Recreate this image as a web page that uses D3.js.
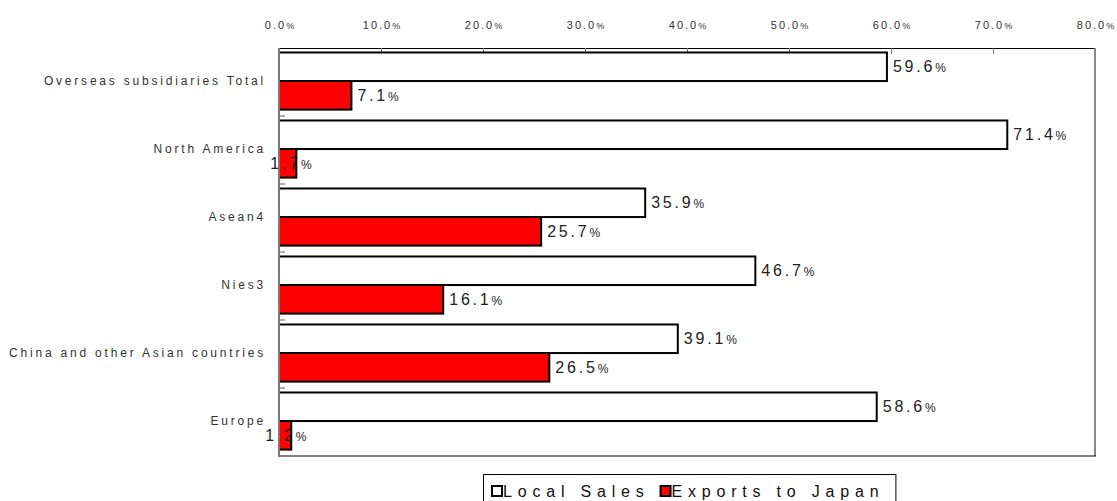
<!DOCTYPE html>
<html>
<head>
<meta charset="utf-8">
<script src="https://cdn.jsdelivr.net/npm/d3@7"></script>
<style>
  html, body { margin: 0; padding: 0; background: #fff; }
  svg { display: block; font-family: "Liberation Sans", Arial, sans-serif; }
</style>
</head>
<body>
<svg id="chart" width="1117" height="501"></svg>
<script>
// Regions and the share of sales going to each destination (%)
const categories = [
  "Overseas subsidiaries Total",
  "North America",
  "Asean4",
  "Nies3",
  "China and other Asian countries",
  "Europe"
];
const localSales = [59.6, 71.4, 35.9, 46.7, 39.1, 58.6];
const exportsToJapan = [7.1, 1.7, 25.7, 16.1, 26.5, 1.2];
const seriesNames = ["Local Sales", "Exports to Japan"];
const seriesColors = ["#ffffff", "#ff0000"];
const xTicks = [0, 10, 20, 30, 40, 50, 60, 70, 80];

const svg = d3.select("#chart");
const plot = { left: 279, right: 1095, top: 48, bottom: 456 };

const x = d3.scaleLinear().domain([0, 80]).range([plot.left, plot.right]);
const y = d3.scaleBand().domain(categories).range([plot.top, plot.bottom]).padding(0);
const bw = y.bandwidth();
const barH = bw * 0.42;
const barOff = bw * 0.066;

// writes "12.3%" with a smaller percent sign
function percentText(sel, v, pctSize) {
  sel.text(null);
  sel.append("tspan").text(v.toFixed(1));
  sel.append("tspan").style("font-size", pctSize).text("%");
}

// top axis with tick labels
const axis = d3.axisTop(x).tickValues(xTicks).tickSize(-6).tickSizeOuter(0);
const gAxis = svg.append("g").attr("transform", `translate(0,${plot.top})`).call(axis);
gAxis.select(".domain").attr("stroke", "#000").attr("stroke-width", 1);
gAxis.selectAll(".tick line").attr("stroke", "#777").attr("stroke-width", 1);
gAxis.selectAll(".tick text")
  .attr("x", 1)
  .attr("y", -23)
  .attr("dy", "0.35em")
  .attr("fill", "#333")
  .style("font-size", "11px")
  .style("letter-spacing", "2px")
  .attr("text-anchor", "middle")
  .each(function (d) { percentText(d3.select(this), d, "9px"); });

// plot frame: right and bottom edges
svg.append("line").attr("x1", plot.right).attr("x2", plot.right)
  .attr("y1", plot.top).attr("y2", plot.bottom)
  .attr("stroke", "#888").attr("stroke-width", 2);
svg.append("line").attr("x1", plot.left).attr("x2", plot.right + 1)
  .attr("y1", plot.bottom).attr("y2", plot.bottom)
  .attr("stroke", "#000").attr("stroke-width", 1);

// category boundary ticks on the left axis
svg.append("g").selectAll("line")
  .data(categories.slice(1))
  .join("line")
  .attr("x1", plot.left).attr("x2", plot.left + 6)
  .attr("y1", d => y(d)).attr("y2", d => y(d))
  .attr("stroke", "#666").attr("stroke-width", 1);

// bars
const series = [localSales, exportsToJapan];
series.forEach((vals, si) => {
  const rows = categories.map((c, i) => ({ c, v: vals[i] }));
  const g = svg.append("g");
  g.selectAll("rect")
    .data(rows)
    .join("rect")
    .attr("x", x(0))
    .attr("y", d => y(d.c) + barOff + si * barH)
    .attr("width", d => x(d.v) - x(0))
    .attr("height", barH)
    .attr("fill", seriesColors[si])
    .attr("stroke", "#000")
    .attr("stroke-width", 2);

  // value labels; very short bars get their label centred near the bar end
  g.selectAll("text")
    .data(rows)
    .join("text")
    .attr("x", d => d.v < 5 ? x(d.v) - 4 : x(d.v) + 6)
    .attr("text-anchor", d => d.v < 5 ? "middle" : "start")
    .attr("y", d => y(d.c) + barOff + si * barH + barH / 2)
    .attr("dy", "0.35em")
    .attr("fill", "#222")
    .style("font-size", "16px")
    .style("letter-spacing", "2.8px")
    .each(function (d) { percentText(d3.select(this), d.v, "12px"); });
});

// left axis line
svg.append("line").attr("x1", plot.left).attr("x2", plot.left)
  .attr("y1", plot.top).attr("y2", plot.bottom + 1)
  .attr("stroke", "#777").attr("stroke-width", 2);

// category labels
svg.append("g").selectAll("text")
  .data(categories)
  .join("text")
  .attr("x", 266)
  .attr("y", d => y(d) + bw / 2 - 1)
  .attr("dy", "0.35em")
  .attr("text-anchor", "end")
  .attr("fill", "#333")
  .style("font-size", "12px")
  .style("letter-spacing", "2.8px")
  .text(d => d);

// legend
const lg = svg.append("g");
let lx = 492;
seriesNames.forEach((name, i) => {
  lg.append("rect").attr("x", lx).attr("y", 486).attr("width", 10).attr("height", 10)
    .attr("fill", seriesColors[i]).attr("stroke", "#000").attr("stroke-width", 2);
  const t = lg.append("text").attr("x", lx + 11).attr("y", 491).attr("dy", "0.35em")
    .attr("fill", "#111")
    .style("font-size", "16px")
    .style("letter-spacing", "5.8px")
    .text(name);
  lx += 11 + t.node().getComputedTextLength() + 11;
});
lg.insert("rect", ":first-child")
  .attr("x", 483.5).attr("y", 474.5).attr("width", lx - 483).attr("height", 40)
  .attr("fill", "#fff").attr("stroke", "#000").attr("stroke-width", 1);
</script>
</body>
</html>
